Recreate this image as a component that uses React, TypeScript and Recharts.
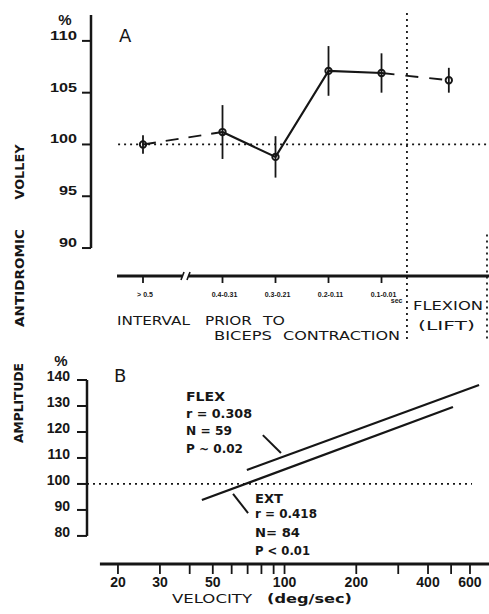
import { ComposedChart, Line, Scatter, ErrorBar, XAxis, YAxis, ReferenceLine } from "recharts";

// Panel A: antidromic volley vs interval before biceps contraction
const intervalLabels = ["> 0.5", "0.4-0.31", "0.3-0.21", "0.2-0.11", "0.1-0.01"];
const intervalPos = [0, 1.5, 2.5, 3.5, 4.5];
const liftPos = 5.77;
const volleyValues = [100.0, 101.2, 98.8, 107.1, 106.9, 106.2];
const volleyErrors = [0.9, 2.6, 2.0, 2.4, 1.9, 1.2];
const yTicksA = [90, 95, 100, 105, 110];

// Panel B: amplitude vs velocity regression lines
const velocityTicks = [20, 30, 40, 50, 60, 70, 80, 90, 100, 200, 300, 400, 500, 600];
const velocityLabels = [20, 30, 50, 100, 200, 400, 600];
const yTicksB = [80, 90, 100, 110, 120, 130, 140];
const flexX = [69.5, 655];
const flexY = [105.4, 138.1];
const extX = [45, 509];
const extY = [93.8, 129.6];
const flexPointer = [{ x: 81.1, y: 118.8 }, { x: 96.6, y: 111.9 }];
const extPointer = [{ x: 60.8, y: 96.2 }, { x: 70.3, y: 88.8 }];

const INK = "#161616";
const NUM = "Liberation Sans, Arial, sans-serif";
const LBL = "DejaVu Sans, sans-serif";

const xDomA: [number, number] = [-0.981, 6.528];
const yDomA: [number, number] = [87.3, 112.5];
const xDomB: [number, number] = [14.83, 721];
const yDomB: [number, number] = [69.2, 140];

const pointsA = [...intervalPos, liftPos].map((x, i) => ({ x, y: volleyValues[i], err: volleyErrors[i] }));
const solidA = pointsA.slice(1, 5);
const dashLeft = pointsA.slice(0, 2);
const dashRight = pointsA.slice(4, 6);
const flexLine = flexX.map((x, i) => ({ x, y: flexY[i] }));
const extLine = extX.map((x, i) => ({ x, y: extY[i] }));

function IntervalTick({ x, y, payload }: any) {
  const i = intervalPos.indexOf(payload.value);
  return (
    <g fill={INK} fontFamily={NUM} fontWeight="bold" fontSize={7}>
      <text x={x + 2} y={y + 12} textAnchor="middle">{intervalLabels[i]}</text>
      {i === intervalPos.length - 1 && (
        <text x={x + 21} y={y + 18} textAnchor="end">sec</text>
      )}
    </g>
  );
}

function YTickA({ x, y, payload }: any) {
  const w = String(payload.value).length === 3 ? 27 : 18;
  return (
    <text x={x - w} y={y - 1} textLength={w} lengthAdjust="spacingAndGlyphs" fill={INK}
      fontFamily={NUM} fontWeight="bold" fontSize={13}>
      {payload.value}
    </text>
  );
}

function YTickB({ x, y, payload }: any) {
  return (
    <text x={x} y={y + 1} textAnchor="end" fill={INK} fontFamily={NUM} fontWeight="bold" fontSize={14}>
      {payload.value}
    </text>
  );
}

function VelTick({ x, y, payload }: any) {
  if (!velocityLabels.includes(payload.value)) return <g />;
  return (
    <text x={x} y={y + 11} textAnchor="middle" fill={INK} fontFamily={NUM} fontWeight="bold" fontSize={14}>
      {payload.value}
    </text>
  );
}

const Marker = (p: any) => (
  <circle cx={p.cx} cy={p.cy} r={3.2} fill="none" stroke={INK} strokeWidth={1.9} />
);

function T({ x, y, w, size = 12, bold = true, children }: any) {
  return (
    <text x={x} y={y} textLength={w} lengthAdjust="spacingAndGlyphs" fontSize={size}
      fontWeight={bold ? "bold" : "normal"} fontFamily={LBL} fill={INK}>
      {children}
    </text>
  );
}

function VText({ cx, cy, len, children }: any) {
  return (
    <text x={cx} y={cy} transform={`rotate(-90 ${cx} ${cy})`} textAnchor="middle" dominantBaseline="central"
      textLength={len} lengthAdjust="spacingAndGlyphs" fontSize={13} fontWeight="bold" fontFamily={LBL} fill={INK}>
      {children}
    </text>
  );
}

const dotted = { stroke: INK, strokeWidth: 1.8, strokeDasharray: "2 4" };

export default function App() {
  return (
    <div style={{ position: "absolute", left: 0, top: 0, width: 489, height: 614, background: "#fff" }}>
      <div style={{ position: "absolute", left: 0, top: 0 }}>
        <ComposedChart width={489} height={345} margin={{ top: 15, right: 0, bottom: 39, left: 31 }}>
          <XAxis dataKey="x" type="number" domain={xDomA} allowDataOverflow ticks={intervalPos}
            axisLine={false} tickSize={7} tickMargin={2} height={30}
            tickLine={{ stroke: INK, strokeWidth: 1.8 }} tick={<IntervalTick />} />
          <YAxis dataKey="y" type="number" domain={yDomA} allowDataOverflow ticks={yTicksA}
            axisLine={false} width={60} tickSize={9} tickMargin={5}
            tickLine={{ stroke: INK, strokeWidth: 2 }} tick={<YTickA />} />
          <ReferenceLine segment={[{ x: xDomA[0], y: 90 }, { x: xDomA[0], y: yDomA[1] }]}
            stroke={INK} strokeWidth={2.5} ifOverflow="visible" />
          <ReferenceLine segment={[{ x: -0.49, y: yDomA[0] }, { x: 0.745, y: yDomA[0] }]}
            stroke={INK} strokeWidth={2.8} ifOverflow="visible" />
          <ReferenceLine segment={[{ x: 0.86, y: yDomA[0] }, { x: xDomA[1], y: yDomA[0] }]}
            stroke={INK} strokeWidth={2.8} ifOverflow="visible" />
          <ReferenceLine segment={[{ x: 0.717, y: 86.91 }, { x: 0.774, y: 87.69 }]}
            stroke={INK} strokeWidth={1.6} ifOverflow="visible" />
          <ReferenceLine segment={[{ x: 0.83, y: 86.91 }, { x: 0.887, y: 87.69 }]}
            stroke={INK} strokeWidth={1.6} ifOverflow="visible" />
          <ReferenceLine segment={[{ x: -0.47, y: 100 }, { x: xDomA[1], y: 100 }]} {...dotted} ifOverflow="visible" />
          <ReferenceLine segment={[{ x: 4.98, y: 112.7 }, { x: 4.98, y: 80.93 }]} {...dotted} ifOverflow="visible" />
          <ReferenceLine segment={[{ x: 6.49, y: 91.3 }, { x: 6.49, y: 80.93 }]} {...dotted} ifOverflow="visible" />
          <Line data={dashLeft} dataKey="y" stroke={INK} strokeWidth={1.9} strokeDasharray="13 10"
            dot={false} isAnimationActive={false} />
          <Line data={solidA} dataKey="y" stroke={INK} strokeWidth={2.1} dot={false} isAnimationActive={false} />
          <Line data={dashRight} dataKey="y" stroke={INK} strokeWidth={1.9} strokeDasharray="13 11"
            dot={false} isAnimationActive={false} />
          <Scatter data={pointsA} dataKey="y" shape={Marker} isAnimationActive={false}>
            <ErrorBar dataKey="err" direction="y" width={0} stroke={INK} strokeWidth={1.8} />
          </Scatter>
        </ComposedChart>
      </div>
      <div style={{ position: "absolute", left: 0, top: 345 }}>
        <ComposedChart width={489} height={269} margin={{ top: 35, right: 0, bottom: 20, left: 27 }}>
          <XAxis dataKey="x" type="number" scale="log" domain={xDomB} allowDataOverflow ticks={velocityTicks}
            axisLine={false} tickSize={10} tickMargin={2} height={30} interval={0}
            tickLine={{ stroke: INK, strokeWidth: 1.8 }} tick={<VelTick />} />
          <YAxis dataKey="y" type="number" domain={yDomB} allowDataOverflow ticks={yTicksB}
            axisLine={false} width={60} tickSize={10} tickMargin={7}
            tickLine={{ stroke: INK, strokeWidth: 2 }} tick={<YTickB />} />
          <ReferenceLine segment={[{ x: xDomB[0], y: 80 }, { x: xDomB[0], y: 140 }]}
            stroke={INK} strokeWidth={2.5} ifOverflow="visible" />
          <ReferenceLine segment={[{ x: 16.8, y: yDomB[0] }, { x: xDomB[1], y: yDomB[0] }]}
            stroke={INK} strokeWidth={2.8} ifOverflow="visible" />
          <ReferenceLine segment={[{ x: xDomB[0], y: 100 }, { x: 612, y: 100 }]} {...dotted} ifOverflow="visible" />
          <ReferenceLine segment={flexPointer} stroke={INK} strokeWidth={2} ifOverflow="visible" />
          <ReferenceLine segment={extPointer} stroke={INK} strokeWidth={2} ifOverflow="visible" />
          <Line data={flexLine} dataKey="y" stroke={INK} strokeWidth={2.2} dot={false} isAnimationActive={false} />
          <Line data={extLine} dataKey="y" stroke={INK} strokeWidth={2.2} dot={false} isAnimationActive={false} />
        </ComposedChart>
      </div>
      <svg width={489} height={614} style={{ position: "absolute", left: 0, top: 0, pointerEvents: "none" }}>
        <text x={65} y={25} textAnchor="middle" fontSize={15} fontWeight="bold" fontFamily={NUM} fill={INK}>%</text>
        <text x={119} y={42} fontSize={18} fontFamily={LBL} fill={INK}>A</text>
        <text x={61} y={366} textAnchor="middle" fontSize={15} fontWeight="bold" fontFamily={NUM} fill={INK}>%</text>
        <text x={114} y={382} fontSize={18} fontFamily={LBL} fill={INK}>B</text>
        <VText cx={19} cy={172} len={55}>VOLLEY</VText>
        <VText cx={19} cy={278} len={98}>ANTIDROMIC</VText>
        <VText cx={18} cy={403} len={80}>AMPLITUDE</VText>
        <T x={117} y={325} w={73} size={13} bold={false}>INTERVAL</T>
        <T x={205} y={325} w={47} size={13} bold={false}>PRIOR</T>
        <T x={263} y={325} w={22} size={13} bold={false}>TO</T>
        <T x={214} y={340} w={58} size={13} bold={false}>BICEPS</T>
        <T x={283} y={340} w={117} size={13} bold={false}>CONTRACTION</T>
        <T x={413} y={310} w={70} size={13} bold={false}>FLEXION</T>
        <T x={418} y={330} w={57} size={13} bold={false}>(LIFT)</T>
        <T x={172} y={603} w={80} size={13} bold={false}>VELOCITY</T>
        <T x={267} y={603} w={85} size={13}>(deg/sec)</T>
        <T x={186} y={401} w={39}>FLEX</T>
        <T x={186} y={418} w={66}>r = 0.308</T>
        <T x={186} y={435} w={46}>N = 59</T>
        <T x={186} y={453} w={57}>P ~ 0.02</T>
        <T x={255} y={503} w={28}>EXT</T>
        <T x={255} y={518} w={62}>r = 0.418</T>
        <T x={255} y={537} w={45}>N= 84</T>
        <T x={255} y={555} w={55}>P &lt; 0.01</T>
      </svg>
    </div>
  );
}
